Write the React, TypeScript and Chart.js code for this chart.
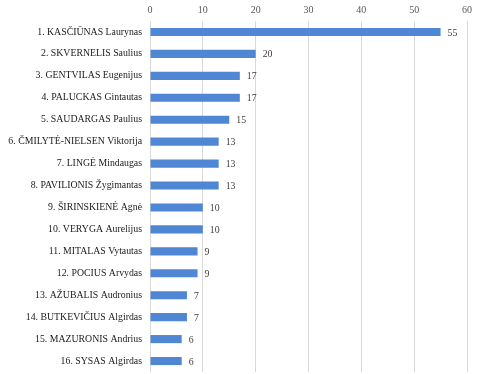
import React, { useEffect, useRef } from "react";
import { Chart, registerables } from "chart.js";

Chart.register(...registerables);

const categories = [
  "1. KASČIŪNAS Laurynas",
  "2. SKVERNELIS Saulius",
  "3. GENTVILAS Eugenijus",
  "4. PALUCKAS Gintautas",
  "5. SAUDARGAS Paulius",
  "6. ČMILYTĖ-NIELSEN Viktorija",
  "7. LINGĖ Mindaugas",
  "8. PAVILIONIS Žygimantas",
  "9. ŠIRINSKIENĖ Agnė",
  "10. VERYGA Aurelijus",
  "11. MITALAS Vytautas",
  "12. POCIUS Arvydas",
  "13. AŽUBALIS Audronius",
  "14. BUTKEVIČIUS Algirdas",
  "15. MAZURONIS Andrius",
  "16. SYSAS Algirdas",
];
const values = [55, 20, 17, 17, 15, 13, 13, 13, 10, 10, 9, 9, 7, 7, 6, 6];
const xTicks = [0, 10, 20, 30, 40, 50, 60];

const FONT = "'Liberation Serif', 'Times New Roman', serif";

const valueLabels = {
  id: "valueLabels",
  afterDatasetsDraw(chart: any) {
    const { ctx } = chart;
    const meta = chart.getDatasetMeta(0);
    ctx.save();
    ctx.font = `9.8px ${FONT}`;
    ctx.fillStyle = "#404040";
    ctx.textAlign = "left";
    ctx.textBaseline = "middle";
    meta.data.forEach((bar: any, i: number) => {
      ctx.fillText(String(values[i]), bar.x + 7, bar.y + 1);
    });
    ctx.restore();
  },
};

export default function App() {
  const ref = useRef<HTMLCanvasElement>(null);
  useEffect(() => {
    if (!ref.current) return;
    const chart = new Chart(ref.current, {
      type: "bar",
      data: {
        labels: categories,
        datasets: [
          {
            data: values,
            backgroundColor: "#4f87d5",
            borderWidth: 0,
            categoryPercentage: 0.37,
            barPercentage: 1,
          },
        ],
      },
      options: {
        indexAxis: "y",
        animation: false,
        responsive: false,
        maintainAspectRatio: false,
        layout: { padding: { left: 0, right: 32, top: 0, bottom: 2 } },
        plugins: {
          legend: { display: false },
          tooltip: { enabled: false },
        },
        scales: {
          x: {
            position: "top",
            min: 0,
            max: 60,
            afterBuildTicks: (axis: any) => {
              axis.ticks = xTicks.map((v) => ({ value: v }));
            },
            afterFit: (axis: any) => {
              axis.height = 21;
              axis.paddingLeft = 0;
              axis.paddingRight = 0;
            },
            grid: { color: "#d9d9d9", drawTicks: false, lineWidth: 1 },
            border: { display: false },
            ticks: {
              color: "#595959",
              font: { family: FONT, size: 10 },
              padding: 5,
            },
          },
          y: {
            afterFit: (axis: any) => {
              axis.width = 150;
              axis.paddingTop = 0;
              axis.paddingBottom = 0;
            },
            grid: { display: false, drawTicks: false },
            border: { display: false },
            ticks: {
              color: "#1a1a1a",
              font: { family: FONT, size: 9.8 },
              padding: 8,
              autoSkip: false,
            },
          },
        },
      },
      plugins: [valueLabels],
    });
    return () => chart.destroy();
  }, []);
  return (
    <div style={{ position: "absolute", left: 0, top: 0, width: 499, height: 374, background: "#fff" }}>
      <canvas ref={ref} width={499} height={374} style={{ display: "block" }} />
    </div>
  );
}
